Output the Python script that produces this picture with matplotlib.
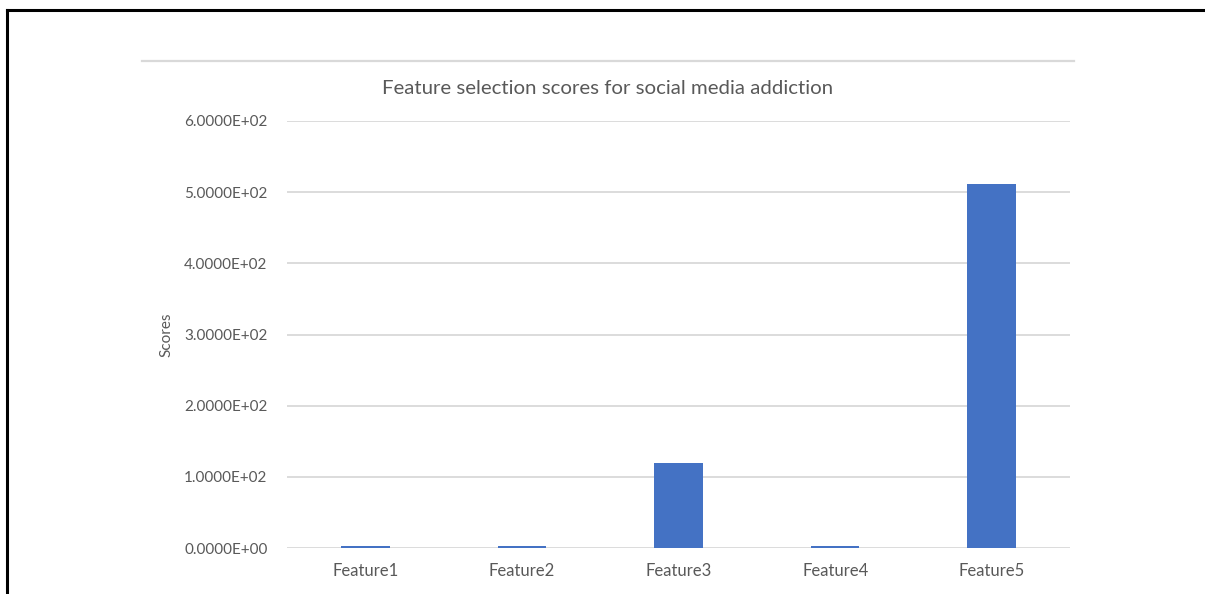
import matplotlib
matplotlib.use("Agg")
import matplotlib.pyplot as plt
from matplotlib.lines import Line2D
from matplotlib.ticker import FuncFormatter

plt.rcParams['font.family'] = ['Lato', 'DejaVu Sans']

features = ['Feature1', 'Feature2', 'Feature3', 'Feature4', 'Feature5']
scores = [3.5, 3.5, 120, 3.5, 512]
y_ticks = [0, 100, 200, 300, 400, 500, 600]

text_color = '#595959'
grid_color = '#d9d9d9'
bar_color = '#4472c4'

fig = plt.figure(figsize=(12.05, 5.94), dpi=100)
ax = fig.add_axes([0.2382, 0.0774, 0.6498, 0.7189])

ax.bar(range(len(features)), scores, width=0.31, color=bar_color, zorder=3)
ax.set_xlim(-0.5, len(features) - 0.5)
ax.set_ylim(0, 600)
ax.set_yticks(y_ticks)
ax.yaxis.set_major_formatter(FuncFormatter(lambda v, p: f"{v:.4E}"))
ax.set_xticks(range(len(features)))
ax.set_xticklabels(features)
ax.grid(axis='y', color=grid_color, linewidth=1.3, zorder=0)
for s in ax.spines.values():
    s.set_visible(False)
ax.tick_params(axis='both', length=0, colors=text_color)
ax.tick_params(axis='y', pad=14, labelsize=11)
ax.tick_params(axis='x', pad=11, labelsize=12)
ax.set_ylabel('Scores', color=text_color, fontsize=11, labelpad=8)

# title centred on the chart area, not on the plot area
fig.text(608 / 1205, 1 - 88 / 594, 'Feature selection scores for social media addiction',
         color=text_color, fontsize=14.7, ha='center', va='center')

# outer frame and chart area top edge
fig.add_artist(Line2D([7.5 / 1205, 7.5 / 1205], [0, 1 - 10 / 594],
                      transform=fig.transFigure, color='black', linewidth=2.2))
fig.add_artist(Line2D([7.5 / 1205, 1], [1 - 10 / 594, 1 - 10 / 594],
                      transform=fig.transFigure, color='black', linewidth=2.2))
fig.add_artist(Line2D([142 / 1205, 1074 / 1205], [1 - 61 / 594, 1 - 61 / 594],
                      transform=fig.transFigure, color=grid_color, linewidth=1.6))

fig.savefig('out.png', dpi=100)
